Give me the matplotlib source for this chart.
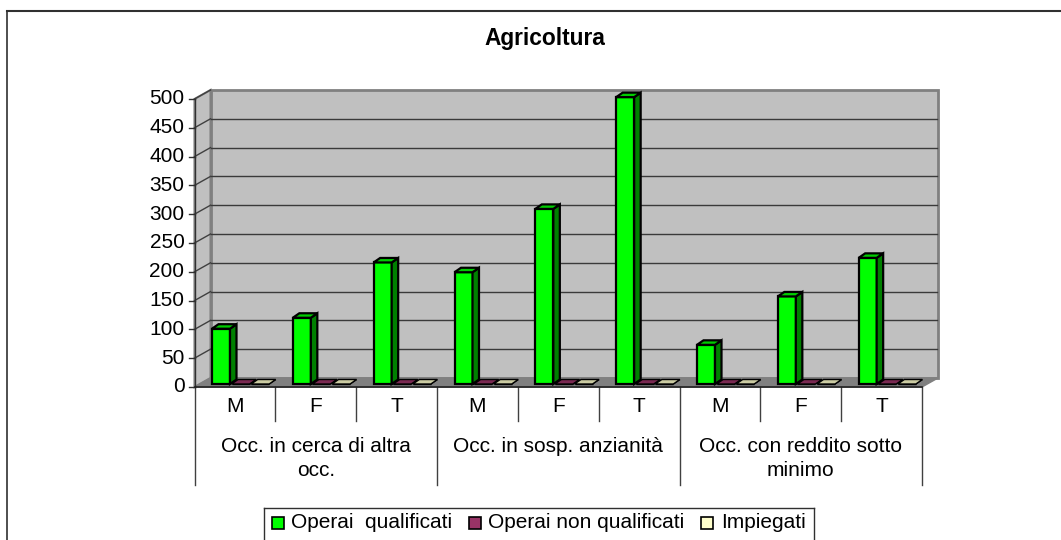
import matplotlib.pyplot as plt
from matplotlib.patches import Polygon, Rectangle

plt.rcParams["font.family"] = ["Liberation Sans", "DejaVu Sans"]

W, H = 1061, 540
title = "Agricoltura"
groups = ["Occ. in cerca di altra\nocc.", "Occ. in sosp. anzianità", "Occ. con reddito sotto\nminimo"]
sexes = ["M", "F", "T"] * 3
yticks = [0, 50, 100, 150, 200, 250, 300, 350, 400, 450, 500]
series = ["Operai  qualificati", "Operai non qualificati", "Impiegati"]
operai_q = [96, 115, 211, 194, 304, 498, 68, 152, 219]
operai_nq = [0, 0, 0, 0, 0, 0, 0, 0, 0]
impiegati = [0, 0, 0, 0, 0, 0, 0, 0, 0]

faces = ["#00FF00", "#993366", "#FFFFCC"]
sides = ["#008000", "#4C1933", "#808066"]
tops = ["#00CC00", "#7A2952", "#CCCCA3"]

FS = 15

fig = plt.figure(figsize=(W / 100, H / 100), dpi=100)
x0, x1, y0, y500 = 194.5, 922.0, 387.0, 99.0
ax = fig.add_axes([x0 / W, 1 - y0 / H, (x1 - x0) / W, (y0 - y500) / H])
ax.set_xlim(0, 9)
ax.set_ylim(0, 500)
ax.axis("off")

# px -> data sizes
ux = 9 / (x1 - x0)
uy = 500 / (y0 - y500)
dx, dy = 16 * ux, 9 * uy


def fy(py):
    return (y0 - py) * uy


# walls
ax.add_patch(Polygon([(dx, dy), (9 + dx, dy), (9 + dx, 500 + dy), (dx, 500 + dy)], fc="#C0C0C0", ec="#808080", lw=2, clip_on=False, zorder=1))
ax.add_patch(Polygon([(0, 0), (dx, dy), (dx, 500 + dy), (0, 500)], fc="#C0C0C0", ec="#808080", lw=1.5, clip_on=False, zorder=1))
ax.add_patch(Polygon([(0, 0), (9, 0), (9 + dx, dy), (dx, dy)], fc="#808080", ec="#808080", lw=1, clip_on=False, zorder=2))

for v in yticks[1:-1]:
    ax.plot([dx, 9 + dx - 1 * ux], [v + dy, v + dy], color="#3A3A3A", lw=1, clip_on=False, zorder=2)
for v in yticks[1:]:
    ax.plot([0, dx], [v, v + dy], color="#404040", lw=1, clip_on=False, zorder=2)
for v in yticks:
    ax.plot([-6 * ux, 0], [v, v], color="#303030", lw=1, clip_on=False, zorder=3)
    ax.text(-10 * ux, v, str(v), ha="right", va="center", fontsize=FS, color="black", clip_on=False)

ax.plot([0, 0], [0, 500], color="#303030", lw=1, clip_on=False, zorder=3)
ax.plot([0, 9], [0, 0], color="#202020", lw=1.2, clip_on=False, zorder=3)

# bars
bar_w = 18 * ux
step = 19.6 * ux
off = 17.5 * ux
bx, by = 6.5 * ux, 4.5 * uy
base = 3 * uy
for s, vals in enumerate([operai_q, operai_nq, impiegati]):
    for i, v in enumerate(vals):
        xl = i + off + s * step
        xr = xl + bar_w
        top = base + v
        z = 4 + s * 0.01 + i
        lw = 1.6 if s == 0 else 1.0
        ax.bar(xl, v, bar_w, bottom=base, align="edge", color=faces[s], edgecolor="black", lw=lw, zorder=z, clip_on=False)
        ax.add_patch(Polygon([(xr, base), (xr + bx, base + by), (xr + bx, top + by), (xr, top)], fc=sides[s], ec="black", lw=lw, clip_on=False, zorder=z))
        ax.add_patch(Polygon([(xl, top), (xl + bx, top + by), (xr + bx, top + by), (xr, top)], fc=tops[s], ec="black", lw=lw, clip_on=False, zorder=z))

# category axis
for i, lab in enumerate(sexes):
    ax.text(i + 0.5, fy(407), lab, ha="center", va="center", fontsize=FS, clip_on=False)
    if i % 3:
        ax.plot([i, i], [0, fy(421)], color="#404040", lw=1, clip_on=False)
for g, lab in enumerate(groups):
    ax.text(3 * g + 1.5, fy(447), lab.split("\n")[0], ha="center", va="center", fontsize=FS, clip_on=False)
    if "\n" in lab:
        ax.text(3 * g + 1.5, fy(471), lab.split("\n")[1], ha="center", va="center", fontsize=FS, clip_on=False)
    ax.plot([3 * g, 3 * g], [0, fy(485)], color="#404040", lw=1, clip_on=False)
ax.plot([9, 9], [0, fy(485)], color="#404040", lw=1, clip_on=False)


def fx_fig(px):
    return px / W


def fy_fig(py):
    return 1 - py / H


# chart frame (runs off the crop on the right and at the bottom)
fig.add_artist(plt.Line2D([fx_fig(6.5), fx_fig(6.5)], [fy_fig(11), 0], color="#303030", lw=1.2))
fig.add_artist(plt.Line2D([fx_fig(6.5), 1], [fy_fig(11), fy_fig(11)], color="#303030", lw=1.5))
fig.text(fx_fig(545), fy_fig(38), title, ha="center", va="center", fontsize=16.4, fontweight="bold")

# legend box
fig.add_artist(plt.Line2D([fx_fig(264), fx_fig(264)], [0, fy_fig(508)], color="#303030", lw=1))
fig.add_artist(plt.Line2D([fx_fig(264), fx_fig(814)], [fy_fig(508), fy_fig(508)], color="#303030", lw=1))
fig.add_artist(plt.Line2D([fx_fig(814), fx_fig(814)], [0, fy_fig(508)], color="#303030", lw=1))
sw_x = [272, 469, 701]
tx_x = [291, 488, 721]
for s, lab in enumerate(series):
    fig.add_artist(Rectangle((fx_fig(sw_x[s]), fy_fig(529)), 12 / W, 12 / H, transform=fig.transFigure, fc=faces[s], ec="black", lw=1.2))
    fig.text(fx_fig(tx_x[s]), fy_fig(522), lab, ha="left", va="center", fontsize=FS)

fig.savefig("out.png", dpi=100)
